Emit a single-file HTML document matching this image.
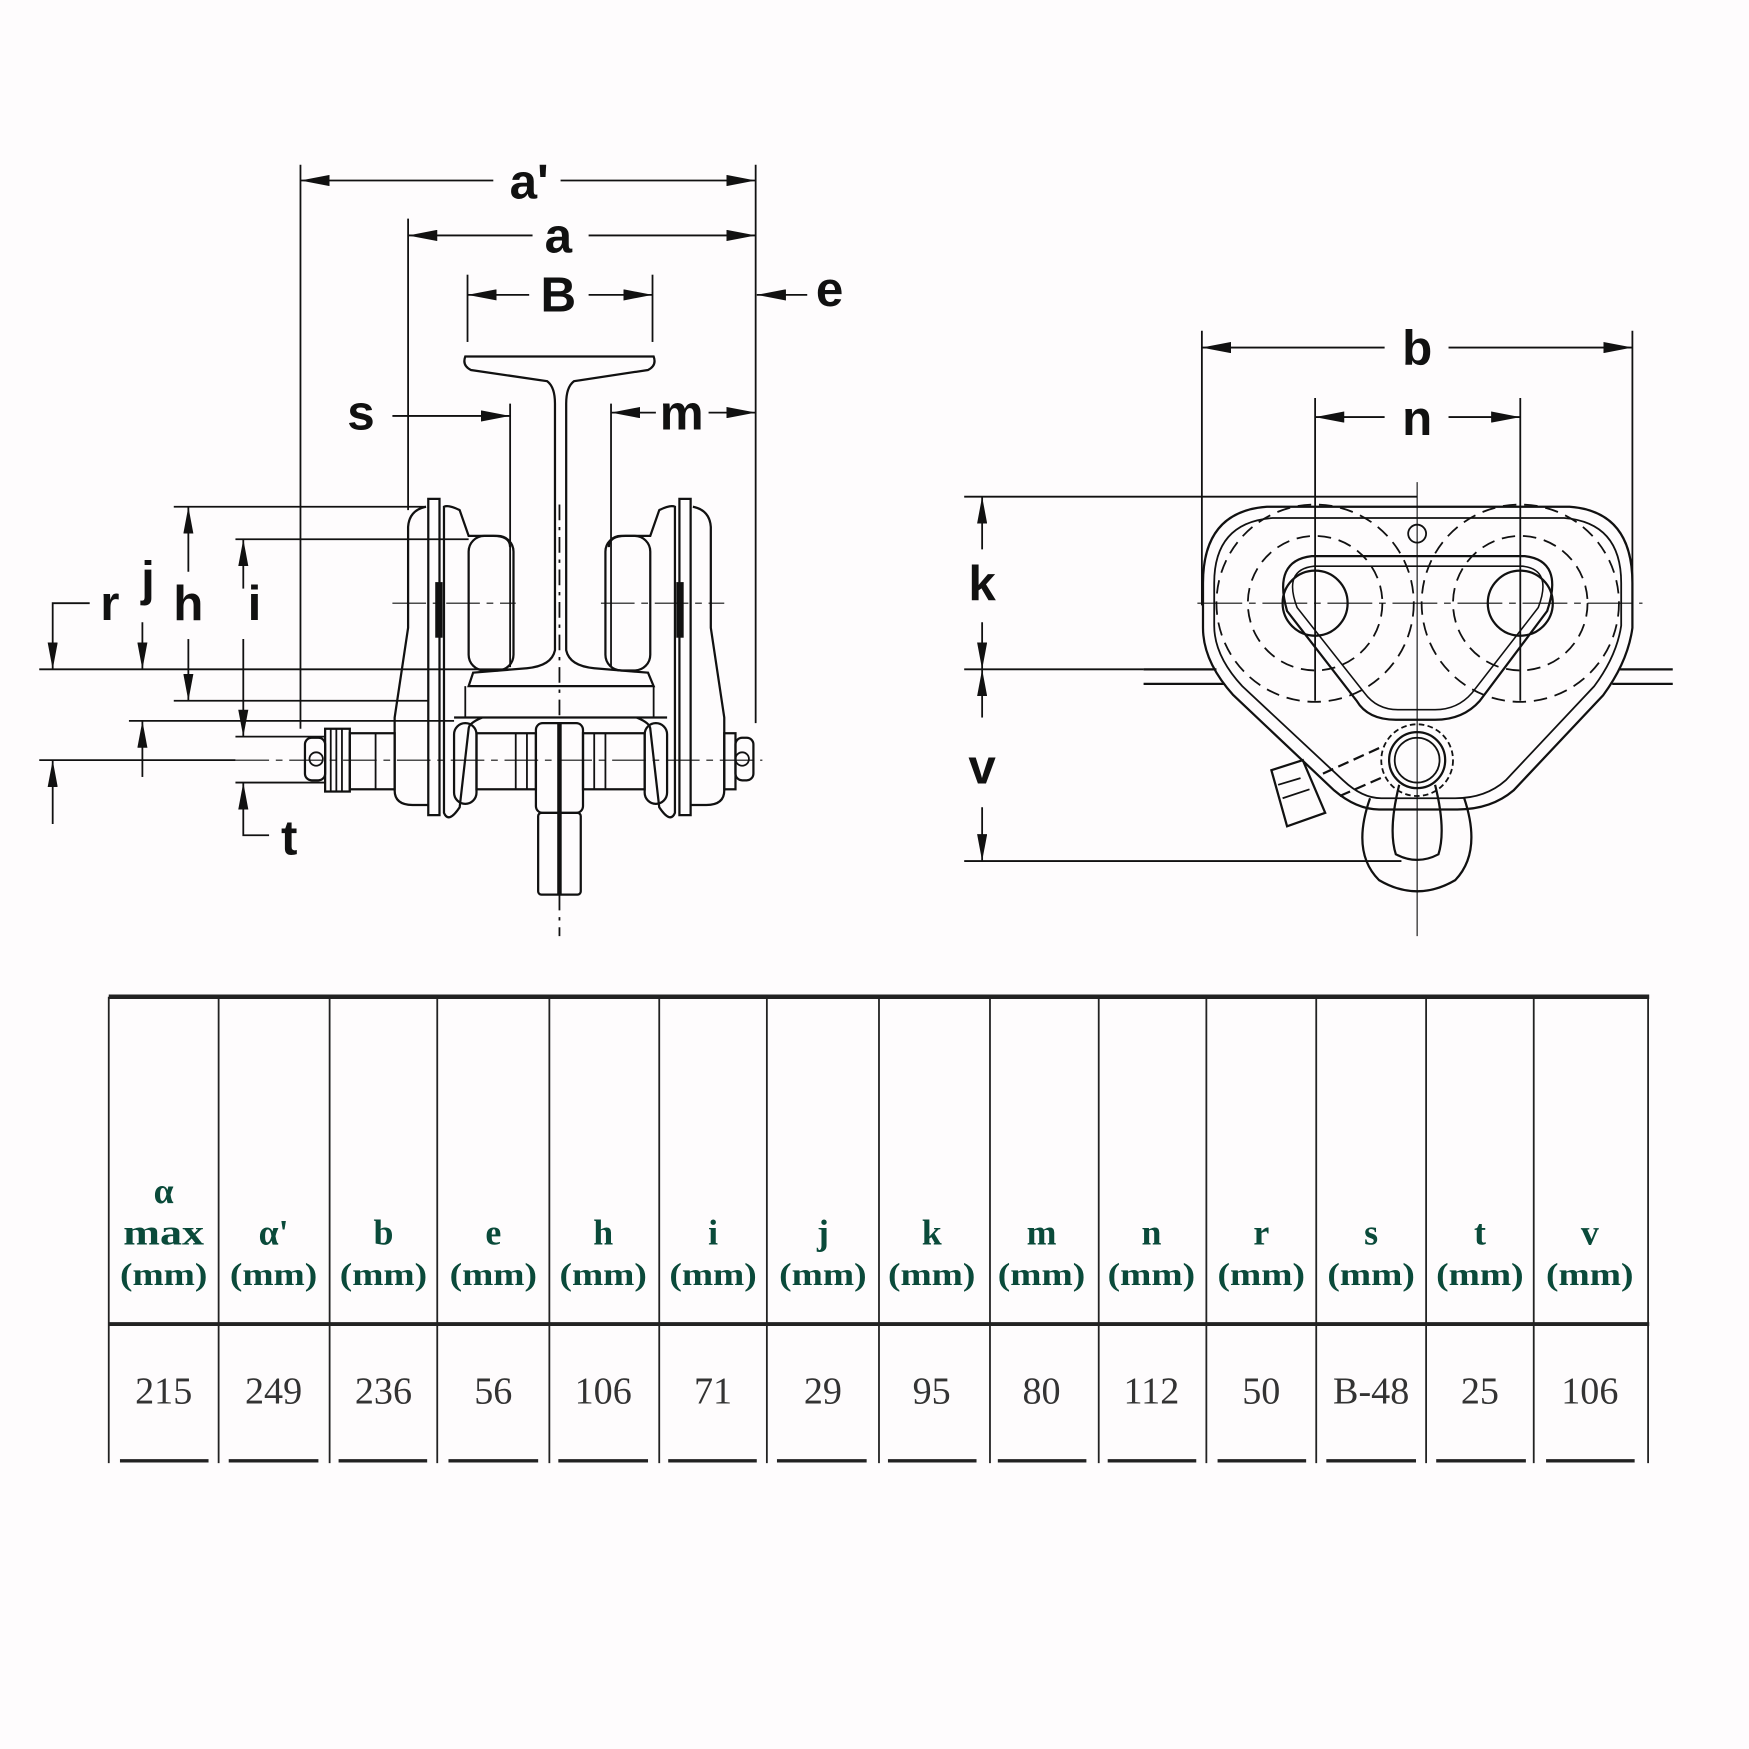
<!DOCTYPE html>
<html><head><meta charset="utf-8"><style>
html,body{margin:0;padding:0;background:#fefcfd}
svg{display:block}
</style></head><body>
<svg width="1749" height="1749" viewBox="0 0 1560 1560" xmlns="http://www.w3.org/2000/svg">
<defs>
<marker id="av" viewBox="0 0 10 10" refX="10" refY="5" markerWidth="26" markerHeight="10" markerUnits="userSpaceOnUse" orient="auto-start-reverse" preserveAspectRatio="none"><path d="M0,0 L10,5 L0,10 z" fill="#111"/></marker>
<marker id="ar" viewBox="0 0 10 10" refX="10" refY="5" markerWidth="24" markerHeight="9" markerUnits="userSpaceOnUse" orient="auto-start-reverse" preserveAspectRatio="none"><path d="M0,0 L10,5 L0,10 z" fill="#111"/></marker>
</defs>
<rect width="1560" height="1560" fill="#fefcfd"/>
<g stroke="#111" stroke-width="1.6" fill="none" font-family="Liberation Sans, sans-serif">
<line x1="268" y1="147" x2="268" y2="650"/>
<line x1="674" y1="147" x2="674" y2="645"/>
<line x1="364" y1="195" x2="364" y2="455"/>
<line x1="417" y1="245" x2="417" y2="305"/>
<line x1="582" y1="245" x2="582" y2="305"/>
<line x1="455" y1="360" x2="455" y2="595"/>
<line x1="545" y1="360" x2="545" y2="595"/>
<line x1="268" y1="161" x2="440" y2="161" marker-start="url(#av)"/>
<line x1="500" y1="161" x2="674" y2="161" marker-end="url(#av)"/>
<line x1="364" y1="210" x2="475" y2="210" marker-start="url(#av)"/>
<line x1="525" y1="210" x2="674" y2="210" marker-end="url(#av)"/>
<line x1="417" y1="263" x2="472" y2="263" marker-start="url(#av)"/>
<line x1="525" y1="263" x2="582" y2="263" marker-end="url(#av)"/>
<line x1="720" y1="263" x2="675" y2="263" marker-end="url(#av)"/>
<line x1="350" y1="371" x2="455" y2="371" marker-end="url(#av)"/>
<line x1="545" y1="368" x2="585" y2="368" marker-start="url(#av)"/>
<line x1="632" y1="368" x2="674" y2="368" marker-end="url(#av)"/>
<path d="M415,318 L583,318 Q586,326 578,330 L512,340 Q505,345 505,360 L505,580 Q508,594 530,596 L578,600 L583,612 L418,612 L422,600 L470,596 Q492,594 495,580 L495,360 Q495,345 488,340 L420,330 Q412,326 415,318 Z" stroke-width="2"/>
<line x1="499" y1="450" x2="499" y2="835" stroke-dasharray="14,6,3,6"/>
<path d="M455,488 Q455,478 440,478 L418,478 L410,455 Q400,450 396,452 L396,725 Q400,735 410,720 L418,650 Q418,645 430,640" stroke-width="2"/>
<rect x="418" y="478" width="40" height="120" rx="14" stroke-width="2"/>
<path d="M382,445 L392,445 L392,727 L382,727 Z" stroke-width="2"/>
<path d="M380,452 Q365,455 364,470 L364,560 L352,640 L352,705 Q352,718 368,718 L382,718" stroke-width="2"/>
<rect x="389" y="520" width="5" height="48" fill="#111"/>
<path d="M543,488 Q543,478 558,478 L580,478 L588,455 Q598,450 602,452 L602,725 Q598,735 588,720 L580,650 Q580,645 568,640" stroke-width="2"/>
<rect x="540" y="478" width="40" height="120" rx="14" stroke-width="2"/>
<path d="M606,445 L616,445 L616,727 L606,727 Z" stroke-width="2"/>
<path d="M618,452 Q633,455 634,470 L634,560 L646,640 L646,705 Q646,718 630,718 L616,718" stroke-width="2"/>
<rect x="604" y="520" width="5" height="48" fill="#111"/>
<line x1="415" y1="612" x2="415" y2="640"/>
<line x1="583" y1="612" x2="583" y2="640"/>
<line x1="405" y1="640" x2="595" y2="640" stroke-width="2"/>
<rect x="272" y="658" width="18" height="38" rx="6" stroke-width="2"/>
<circle cx="282" cy="677" r="6"/>
<rect x="290" y="650" width="22" height="56" stroke-width="2"/>
<line x1="295" y1="650" x2="295" y2="706"/><line x1="300" y1="650" x2="300" y2="706"/><line x1="305" y1="650" x2="305" y2="706"/>
<rect x="312" y="654" width="40" height="50" stroke-width="2"/>
<line x1="335" y1="654" x2="335" y2="704"/>
<rect x="405" y="645" width="20" height="72" rx="10" stroke-width="2"/>
<rect x="425" y="654" width="53" height="50" stroke-width="2"/>
<line x1="460" y1="654" x2="460" y2="704"/><line x1="470" y1="654" x2="470" y2="704"/>
<rect x="520" y="654" width="55" height="50" stroke-width="2"/>
<line x1="530" y1="654" x2="530" y2="704"/><line x1="540" y1="654" x2="540" y2="704"/>
<rect x="575" y="645" width="20" height="72" rx="10" stroke-width="2"/>
<rect x="646" y="654" width="10" height="50" stroke-width="2"/>
<rect x="656" y="658" width="16" height="38" rx="6" stroke-width="2"/>
<circle cx="662" cy="677" r="6"/>
<rect x="478" y="645" width="42" height="80" rx="6" stroke-width="2"/>
<rect x="480" y="725" width="38" height="73" rx="3" stroke-width="2"/>
<line x1="499" y1="645" x2="499" y2="798" stroke-width="4"/>
<line x1="350" y1="538" x2="460" y2="538" stroke-dasharray="30,6,6,6" stroke-width="1"/>
<line x1="536" y1="538" x2="646" y2="538" stroke-dasharray="30,6,6,6" stroke-width="1"/>
<line x1="210" y1="678" x2="680" y2="678" stroke-dasharray="30,6,6,6" stroke-width="1"/>
<line x1="155" y1="452" x2="380" y2="452"/>
<line x1="210" y1="481" x2="418" y2="481"/>
<line x1="35" y1="597" x2="455" y2="597"/>
<line x1="155" y1="625" x2="382" y2="625"/>
<line x1="115" y1="643" x2="405" y2="643"/>
<line x1="210" y1="657" x2="290" y2="657"/>
<line x1="35" y1="678" x2="210" y2="678"/>
<line x1="210" y1="698" x2="290" y2="698"/>
<polyline points="80,538 47,538 47,597" marker-end="url(#ar)"/>
<line x1="47" y1="735" x2="47" y2="678" marker-end="url(#ar)"/>
<line x1="127" y1="555" x2="127" y2="597" marker-end="url(#ar)"/>
<line x1="127" y1="693" x2="127" y2="643" marker-end="url(#ar)"/>
<line x1="168" y1="510" x2="168" y2="452" marker-end="url(#ar)"/>
<line x1="168" y1="570" x2="168" y2="625" marker-end="url(#ar)"/>
<line x1="217" y1="525" x2="217" y2="481" marker-end="url(#ar)"/>
<line x1="217" y1="570" x2="217" y2="657" marker-end="url(#ar)"/>
<polyline points="240,745 217,745 217,698" marker-end="url(#ar)"/>

<line x1="1072" y1="295" x2="1072" y2="540"/>
<line x1="1456" y1="295" x2="1456" y2="540"/>
<line x1="1173" y1="355" x2="1173" y2="625"/>
<line x1="1356" y1="355" x2="1356" y2="625"/>
<line x1="1072" y1="310" x2="1235" y2="310" marker-start="url(#av)"/>
<line x1="1292" y1="310" x2="1456" y2="310" marker-end="url(#av)"/>
<line x1="1173" y1="372" x2="1235" y2="372" marker-start="url(#av)"/>
<line x1="1292" y1="372" x2="1356" y2="372" marker-end="url(#av)"/>
<line x1="860" y1="443" x2="1264" y2="443"/>
<line x1="860" y1="597" x2="1020" y2="597"/>
<line x1="860" y1="768" x2="1250" y2="768"/>
<line x1="876" y1="490" x2="876" y2="443" marker-end="url(#ar)"/>
<line x1="876" y1="555" x2="876" y2="597" marker-end="url(#ar)"/>
<line x1="876" y1="640" x2="876" y2="597" marker-end="url(#ar)"/>
<line x1="876" y1="720" x2="876" y2="768" marker-end="url(#ar)"/>
<line x1="1020" y1="597" x2="1085" y2="597" stroke-width="2"/>
<line x1="1020" y1="610" x2="1092" y2="610" stroke-width="2"/>
<line x1="1445" y1="597" x2="1492" y2="597" stroke-width="2"/>
<line x1="1438" y1="610" x2="1492" y2="610" stroke-width="2"/>
<path d="M1130,452 L1400,452 Q1456,456 1456,520 L1456,560 Q1452,590 1430,620 L1350,705 Q1330,722 1300,722 L1230,722 Q1210,722 1190,705 L1100,620 Q1073,590 1073,560 L1073,520 Q1073,456 1130,452 Z" stroke-width="2"/>
<path d="M1135,462 L1395,462 Q1446,466 1446,520 L1446,558 Q1442,585 1422,612 L1343,696 Q1325,712 1298,712 L1232,712 Q1215,712 1198,696 L1108,612 Q1083,585 1083,558 L1083,520 Q1083,466 1135,462 Z" stroke-width="1.6"/>
<path d="M1170,496 L1360,496 Q1395,500 1380,545 L1320,625 Q1305,642 1280,642 L1245,642 Q1220,642 1210,625 L1148,545 Q1135,500 1170,496 Z" stroke-width="2"/>
<path d="M1172,505 L1358,505 Q1385,508 1372,542 L1313,618 Q1300,633 1280,633 L1247,633 Q1228,633 1217,618 L1157,542 Q1144,508 1172,505 Z" stroke-width="1.4"/>
<g stroke-dasharray="12,7" stroke-width="1.6">
<circle cx="1173" cy="538" r="88"/>
<circle cx="1356" cy="538" r="88"/>
<circle cx="1173" cy="538" r="60"/>
<circle cx="1356" cy="538" r="60"/>
</g>
<circle cx="1173" cy="538" r="29" stroke-width="2"/>
<circle cx="1356" cy="538" r="29" stroke-width="2"/>
<circle cx="1264" cy="476" r="8"/>
<line x1="1264" y1="430" x2="1264" y2="835" stroke-width="1"/>
<line x1="1068" y1="538" x2="1465" y2="538" stroke-width="1" stroke-dasharray="40,6,6,6"/>
<circle cx="1264" cy="678" r="32" stroke-width="1.6" stroke-dasharray="5,3"/>
<circle cx="1264" cy="678" r="25" stroke-width="2"/>
<circle cx="1264" cy="678" r="20"/>
<path d="M1180,690 L1235,665 M1195,710 L1236,692" stroke-width="2" stroke-dasharray="10,5"/>
<path d="M1134,687 L1162,678 L1182,725 L1148,737 Z" stroke-width="2"/>
<line x1="1140" y1="700" x2="1160" y2="694"/><line x1="1144" y1="712" x2="1168" y2="704"/>
<path d="M1222,712 Q1205,760 1230,785 Q1264,805 1298,785 Q1322,760 1306,712" stroke-width="2"/>
<path d="M1248,700 Q1238,740 1245,762 Q1264,772 1283,762 Q1290,740 1280,700" stroke-width="2"/>
</g>

<g font-family="Liberation Sans, sans-serif" font-weight="bold" font-size="44" fill="#111" text-anchor="middle">
<text x="472" y="177">a'</text>
<text x="498" y="225">a</text>
<text x="498" y="278">B</text>
<text x="740" y="273">e</text>
<text x="322" y="383">s</text>
<text x="608" y="383">m</text>
<text x="98" y="553">r</text>
<text x="132" y="531">j</text>
<text x="168" y="553">h</text>
<text x="227" y="553">i</text>
<text x="258" y="762">t</text>
<text x="1264" y="325">b</text>
<text x="1264" y="388">n</text>
<text x="876" y="535">k</text>
<text x="876" y="699">v</text>
</g>

<g stroke="#222" fill="none">
<line x1="97" y1="889" x2="1471" y2="889" stroke-width="4"/>
<line x1="97" y1="1181" x2="1471" y2="1181" stroke-width="3.5"/>
<g stroke-width="1.6">
<line x1="97" y1="889" x2="97" y2="1305"/><line x1="195" y1="889" x2="195" y2="1305"/><line x1="294" y1="889" x2="294" y2="1305"/><line x1="390" y1="889" x2="390" y2="1305"/><line x1="490" y1="889" x2="490" y2="1305"/><line x1="588" y1="889" x2="588" y2="1305"/><line x1="684" y1="889" x2="684" y2="1305"/><line x1="784" y1="889" x2="784" y2="1305"/><line x1="883" y1="889" x2="883" y2="1305"/><line x1="980" y1="889" x2="980" y2="1305"/><line x1="1076" y1="889" x2="1076" y2="1305"/><line x1="1174" y1="889" x2="1174" y2="1305"/><line x1="1272" y1="889" x2="1272" y2="1305"/><line x1="1368" y1="889" x2="1368" y2="1305"/><line x1="1470" y1="889" x2="1470" y2="1305"/>
</g>
<g stroke-width="3">
<line x1="107" y1="1303" x2="186" y2="1303"/><line x1="204" y1="1303" x2="284" y2="1303"/><line x1="302" y1="1303" x2="381" y2="1303"/><line x1="400" y1="1303" x2="480" y2="1303"/><line x1="498" y1="1303" x2="578" y2="1303"/><line x1="596" y1="1303" x2="675" y2="1303"/><line x1="693" y1="1303" x2="773" y2="1303"/><line x1="792" y1="1303" x2="871" y2="1303"/><line x1="890" y1="1303" x2="969" y2="1303"/><line x1="988" y1="1303" x2="1067" y2="1303"/><line x1="1086" y1="1303" x2="1165" y2="1303"/><line x1="1183" y1="1303" x2="1263" y2="1303"/><line x1="1281" y1="1303" x2="1361" y2="1303"/><line x1="1379" y1="1303" x2="1458" y2="1303"/>
</g>
</g>
<g font-family="Liberation Serif, serif" font-weight="bold" fill="#0a4a3a" text-anchor="middle" font-size="32">
<text x="146" y="1073">α</text>
<text x="146" y="1110" textLength="72" lengthAdjust="spacingAndGlyphs">max</text>
<text x="244" y="1110">α'</text>
<text x="342" y="1110">b</text>
<text x="440" y="1110">e</text>
<text x="538" y="1110">h</text>
<text x="636" y="1110">i</text>
<text x="734" y="1110">j</text>
<text x="831" y="1110">k</text>
<text x="929" y="1110">m</text>
<text x="1027" y="1110">n</text>
<text x="1125" y="1110">r</text>
<text x="1223" y="1110">s</text>
<text x="1320" y="1110">t</text>
<text x="1418" y="1110">v</text>
</g>
<g font-family="Liberation Serif, serif" font-weight="bold" fill="#0a4a3a" text-anchor="middle" font-size="28">
<text x="146" y="1146" textLength="78" lengthAdjust="spacingAndGlyphs">(mm)</text>
<text x="244" y="1146" textLength="78" lengthAdjust="spacingAndGlyphs">(mm)</text>
<text x="342" y="1146" textLength="78" lengthAdjust="spacingAndGlyphs">(mm)</text>
<text x="440" y="1146" textLength="78" lengthAdjust="spacingAndGlyphs">(mm)</text>
<text x="538" y="1146" textLength="78" lengthAdjust="spacingAndGlyphs">(mm)</text>
<text x="636" y="1146" textLength="78" lengthAdjust="spacingAndGlyphs">(mm)</text>
<text x="734" y="1146" textLength="78" lengthAdjust="spacingAndGlyphs">(mm)</text>
<text x="831" y="1146" textLength="78" lengthAdjust="spacingAndGlyphs">(mm)</text>
<text x="929" y="1146" textLength="78" lengthAdjust="spacingAndGlyphs">(mm)</text>
<text x="1027" y="1146" textLength="78" lengthAdjust="spacingAndGlyphs">(mm)</text>
<text x="1125" y="1146" textLength="78" lengthAdjust="spacingAndGlyphs">(mm)</text>
<text x="1223" y="1146" textLength="78" lengthAdjust="spacingAndGlyphs">(mm)</text>
<text x="1320" y="1146" textLength="78" lengthAdjust="spacingAndGlyphs">(mm)</text>
<text x="1418" y="1146" textLength="78" lengthAdjust="spacingAndGlyphs">(mm)</text>
</g>
<g font-family="Liberation Serif, serif" fill="#333" text-anchor="middle" font-size="34">
<text x="146" y="1252">215</text>
<text x="244" y="1252">249</text>
<text x="342" y="1252">236</text>
<text x="440" y="1252">56</text>
<text x="538" y="1252">106</text>
<text x="636" y="1252">71</text>
<text x="734" y="1252">29</text>
<text x="831" y="1252">95</text>
<text x="929" y="1252">80</text>
<text x="1027" y="1252">112</text>
<text x="1125" y="1252">50</text>
<text x="1223" y="1252">B-48</text>
<text x="1320" y="1252">25</text>
<text x="1418" y="1252">106</text>
</g>
</svg>
</body></html>
